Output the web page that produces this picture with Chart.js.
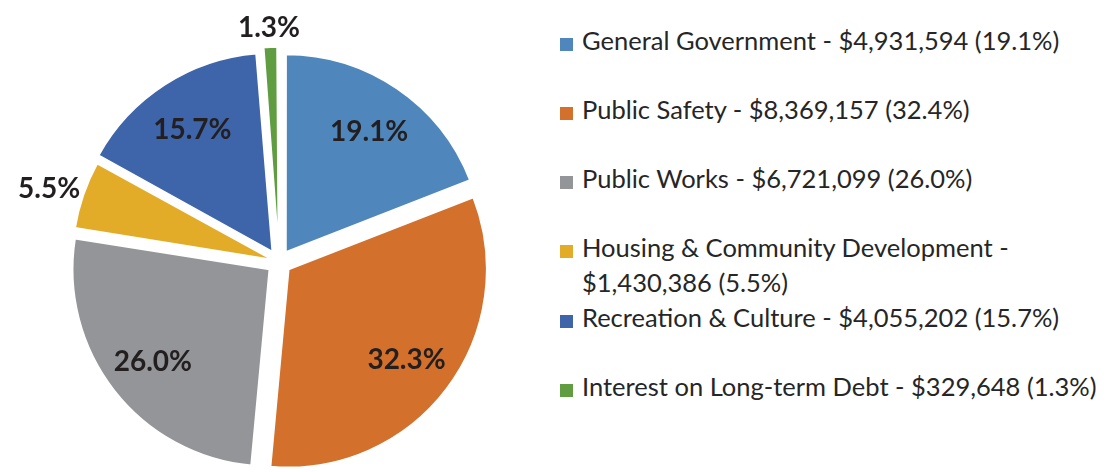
<!DOCTYPE html>
<meta charset="utf-8">
<script src="https://cdn.jsdelivr.net/npm/chart.js"></script>
<style>
  html, body { margin: 0; padding: 0; background: #fff; }
  #wrap { position: relative; width: 1109px; height: 472px; overflow: hidden; }
  #pie { position: absolute; left: 0; top: 0; }
  #legend { position: absolute; left: 560px; top: 22.5px; width: 548px;
    font-family: Lato, "Open Sans", sans-serif; font-size: 25.5px; color: #262626; }
  .item { height: 69.3px; line-height: 35px; position: relative; padding-left: 22px; }
  .item .box { position: absolute; left: 0; top: 15px; width: 13px; height: 13px; }
  .item .txt { display: block; width: 522px; }
</style>
<div id="wrap">
  <canvas id="pie" width="558" height="472"></canvas>
  <div id="legend"></div>
</div>
<script>
// expenditures by function
var categories = ['General Government', 'Public Safety', 'Public Works',
  'Housing & Community Development', 'Recreation & Culture', 'Interest on Long-term Debt'];
var amounts = [4931594, 8369157, 6721099, 1430386, 4055202, 329648];
var legendPct = ['19.1%', '32.4%', '26.0%', '5.5%', '15.7%', '1.3%'];
var sliceLabels = ['19.1%', '32.3%', '26.0%', '5.5%', '15.7%', '1.3%'];
var colors = ['#4F87BC', '#D3702B', '#939598', '#E2AC28', '#3E64AA', '#609C40'];
var explode = [48, 48, 48, 24, 48, 38];

// legend built as html (one entry wraps to two lines like the original)
var legend = document.getElementById('legend');
categories.forEach(function(name, i) {
  var div = document.createElement('div');
  div.className = 'item';
  var box = document.createElement('span');
  box.className = 'box';
  box.style.background = colors[i];
  var txt = document.createElement('span');
  txt.className = 'txt';
  txt.textContent = name + ' - $' + amounts[i].toLocaleString('en-US') + ' (' + legendPct[i] + ')';
  div.appendChild(box);
  div.appendChild(txt);
  legend.appendChild(div);
});

// draws the percent labels, small slices get theirs outside
var sliceLabelPlugin = {
  id: 'sliceLabels',
  afterDatasetsDraw: function(chart) {
    var ctx = chart.ctx;
    var meta = chart.getDatasetMeta(0);
    ctx.save();
    ctx.font = 'bold 28px Lato, "Open Sans", sans-serif';
    ctx.fillStyle = '#231F20';
    ctx.textAlign = 'center';
    ctx.textBaseline = 'middle';
    meta.data.forEach(function(arc, i) {
      var p = arc.getProps(['x', 'y', 'startAngle', 'endAngle', 'outerRadius', 'circumference']);
      var mid = (p.startAngle + p.endAngle) / 2;
      var shift = (arc.options.offset || 0) / 4;
      var share = p.circumference / (Math.PI * 2);
      var cx = Math.cos(mid), cy = Math.sin(mid);
      var x, y;
      if (share < 0.1) {
        // outside end: box touches a point just past the rim
        var grow = shift * (1 - Math.sin(Math.min(Math.PI, p.circumference)));
        var d = p.outerRadius + grow + shift + 5;
        var w = ctx.measureText(sliceLabels[i]).width;
        x = p.x + cx * d + cx * w / 2;
        y = p.y + cy * d + cy * 14;
      } else {
        x = p.x + cx * (p.outerRadius * 0.75 + shift);
        y = p.y + cy * (p.outerRadius * 0.75 + shift) + 2;
      }
      ctx.fillText(sliceLabels[i], x, y);
    });
    ctx.restore();
  }
};

new Chart(document.getElementById('pie'), {
  type: 'pie',
  data: {
    labels: categories,
    datasets: [{
      data: amounts,
      backgroundColor: colors,
      borderColor: '#ffffff',
      borderWidth: 2,
      offset: explode,
      radius: 197
    }]
  },
  options: {
    responsive: false,
    animation: false,
    devicePixelRatio: 1,
    layout: { padding: { top: 52 } },
    plugins: {
      legend: { display: false },
      tooltip: { enabled: false }
    }
  },
  plugins: [sliceLabelPlugin]
});
</script>
